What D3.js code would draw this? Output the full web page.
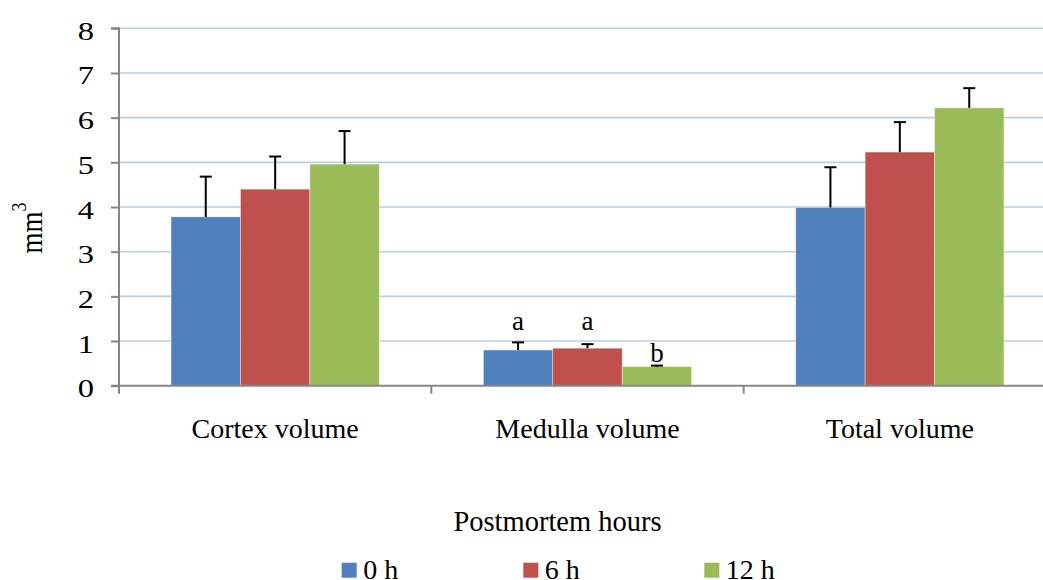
<!DOCTYPE html>
<html><head><meta charset="utf-8">
<script src="https://cdn.jsdelivr.net/npm/d3@7"></script>
<style>body{margin:0;background:#fff;} svg{display:block;}</style>
</head><body>
<script>
const categories = ["Cortex volume", "Medulla volume", "Total volume"];
const seriesNames = ["0 h", "6 h", "12 h"];
const colors = ["#4F81BD", "#C0504D", "#9BBB59"];
const values0h = [3.78, 0.80, 3.99];
const values6h = [4.40, 0.84, 5.23];
const values12h = [4.96, 0.43, 6.22];
const errTop0h = [4.68, 0.97, 4.89];
const errTop6h = [5.13, 0.93, 5.90];
const errTop12h = [5.70, 0.45, 6.66];
const sigLabels0h = ["", "a", ""];
const sigLabels6h = ["", "a", ""];
const sigLabels12h = ["", "b", ""];
const yTicks = [0,1,2,3,4,5,6,7,8];

const W = 1043, H = 580;
const mLeft = 119, mRight = 1056, mTop = 28.3, mBottom = 385.7;
const font = "'Liberation Serif', 'Times New Roman', serif";

const svg = d3.select("body").append("svg").attr("width", W).attr("height", H);

const y = d3.scaleLinear().domain([0, 8]).range([mBottom, mTop]);
const x0 = d3.scaleBand().domain(categories).range([mLeft, mRight]).paddingInner(0).paddingOuter(0);
const bw = x0.bandwidth();
const x1 = d3.scaleBand().domain(seriesNames).range([0, bw * 0.6667]).padding(0);
const groupOff = (bw - bw*0.6667)/2;

// gridlines
svg.append("g").selectAll("line").data(yTicks.filter(d=>d>0)).join("line")
  .attr("x1", mLeft).attr("x2", mRight)
  .attr("y1", d=>y(d)).attr("y2", d=>y(d))
  .attr("stroke", "#B9CDE5").attr("stroke-width", 1.6);

const series = seriesNames.map((s,i)=>({name:s, color:colors[i],
  vals:[values0h,values6h,values12h][i], errs:[errTop0h,errTop6h,errTop12h][i],
  sig:[sigLabels0h,sigLabels6h,sigLabels12h][i]}));

series.forEach(s=>{
  const g = svg.append("g");
  g.selectAll("rect").data(categories).join("rect")
    .attr("x", (c)=>x0(c)+groupOff+x1(s.name))
    .attr("y", (c,i)=>y(s.vals[i]))
    .attr("width", x1.bandwidth())
    .attr("height", (c,i)=>y(0)-y(s.vals[i]))
    .attr("fill", s.color)
    .attr("stroke", "rgba(255,255,255,0.5)").attr("stroke-width", 0.8);
});
series.forEach(s=>{
  const g = svg.append("g");
  categories.forEach((c,i)=>{
    const cx = x0(c)+groupOff+x1(s.name)+x1.bandwidth()/2;
    g.append("line").attr("x1",cx).attr("x2",cx).attr("y1",y(s.vals[i])).attr("y2",y(s.errs[i]))
      .attr("stroke","#000").attr("stroke-width",2);
    g.append("line").attr("x1",cx-6).attr("x2",cx+6).attr("y1",y(s.errs[i])).attr("y2",y(s.errs[i]))
      .attr("stroke","#000").attr("stroke-width",2);
    if (s.sig[i]) {
      g.append("text").attr("x", cx).attr("y", s.sig[i]==="b" ? y(s.errs[i]) - 4 : y(0.8) - 20)
        .attr("text-anchor","middle").attr("font-family",font).attr("font-size",27)
        .text(s.sig[i]);
    }
  });
});

// y axis
const sx = 1.3;
const yAxis = d3.axisLeft(y).tickValues(yTicks).tickSize(8).tickPadding(6).tickFormat(d3.format("d"));
const ya = svg.append("g").attr("transform",`translate(${mLeft},0)`).call(yAxis);
ya.select(".domain").attr("stroke","#868686").attr("stroke-width",2).attr("d",`M-8,${mTop}H0V${mBottom}H-8`);
ya.selectAll(".tick line").attr("stroke","#868686").attr("stroke-width",2);
ya.selectAll("text").attr("font-family",font).attr("font-size",25).attr("fill","#000")
  .attr("x", -25/sx).attr("dy", "11px").attr("transform", `scale(${sx},1)`);

// x axis
const xa = svg.append("g").attr("transform",`translate(0,${mBottom})`);
xa.append("line").attr("x1",mLeft).attr("x2",mRight).attr("y1",0).attr("y2",0).attr("stroke","#868686").attr("stroke-width",2);
const bounds = categories.map(c=>x0(c)).concat([mRight]);
xa.selectAll("line.tk").data(bounds).join("line").attr("class","tk")
  .attr("x1",d=>d).attr("x2",d=>d).attr("y1",0).attr("y2",8).attr("stroke","#868686").attr("stroke-width",2);
xa.selectAll("text").data(categories).join("text")
  .attr("x", c=>x0(c)+bw/2).attr("y", 52.6)
  .attr("text-anchor","middle").attr("font-family",font).attr("font-size",28).text(c=>c);

// axis titles
svg.append("text").attr("x", 557.5).attr("y", 530.7).attr("text-anchor","middle")
  .attr("font-family",font).attr("font-size",28.5).text("Postmortem hours");
const yt = svg.append("text").attr("transform","translate(41.7,228) rotate(-90) scale(1,1.2)")
  .attr("text-anchor","middle").attr("font-family",font).attr("font-size",27);
yt.append("tspan").text("mm");
yt.append("tspan").attr("dy",-13).attr("font-size",18).text("3");

// legend
const legX = [341.7, 523.3, 704.3];
const leg = svg.append("g");
series.forEach((s,i)=>{
  leg.append("rect").attr("x",legX[i]).attr("y",562.7).attr("width",15).attr("height",15).attr("fill",s.color);
  leg.append("text").attr("x",legX[i]+21.5).attr("y",579).attr("font-family",font).attr("font-size",28).text(s.name);
});
</script>
</body></html>
